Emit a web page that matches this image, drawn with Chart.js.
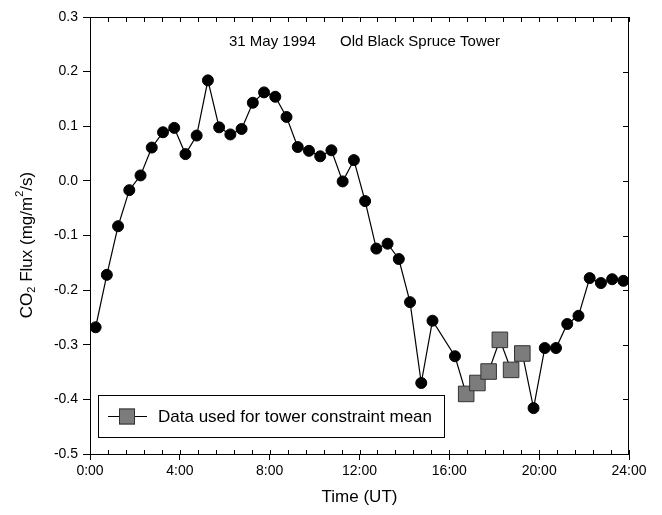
<!DOCTYPE html>
<html>
<head>
<meta charset="utf-8">
<script src="https://cdn.jsdelivr.net/npm/chart.js@4.4.1/dist/chart.umd.min.js"></script>
<style>
  html, body { margin: 0; padding: 0; background: #fff; }
  canvas { display: block; }
</style>
</head>
<body>
<canvas id="fluxChart" width="662" height="515"></canvas>
<script>
// time of each measurement (hours UT) - no value at 15:45
const hours = [0.25, 0.75, 1.25, 1.75, 2.25, 2.75, 3.25, 3.75, 4.25, 4.75,
  5.25, 5.75, 6.25, 6.75, 7.25, 7.75, 8.25, 8.75, 9.25, 9.75,
  10.25, 10.75, 11.25, 11.75, 12.25, 12.75, 13.25, 13.75, 14.25, 14.75,
  15.25, 16.25, 16.75, 17.25, 17.75, 18.25, 18.75, 19.25, 19.75, 20.25,
  20.75, 21.25, 21.75, 22.25, 22.75, 23.25, 23.75];
// CO2 flux (mg/m2/s)
const flux = [-0.268, -0.172, -0.083, -0.017, 0.010, 0.061, 0.089, 0.097, 0.049, 0.083,
  0.184, 0.098, 0.085, 0.095, 0.143, 0.162, 0.154, 0.117, 0.062, 0.055,
  0.045, 0.056, -0.001, 0.038, -0.037, -0.124, -0.115, -0.143, -0.222, -0.370,
  -0.256, -0.321, -0.390, -0.370, -0.349, -0.291, -0.346, -0.316, -0.416, -0.306,
  -0.306, -0.262, -0.247, -0.178, -0.187, -0.180, -0.183];
// hours used for the tower constraint mean (drawn as squares)
const usedHours = [16.75, 17.25, 17.75, 18.25, 18.75, 19.25];

const titleLeft = '31 May 1994';
const titleRight = 'Old Black Spruce Tower';
const legendLabel = 'Data used for tower constraint mean';

const FONT = '"Liberation Sans", Arial, Helvetica, sans-serif';
const points = hours.map((h, i) => ({x: h, y: flux[i]}));
const isUsed = ctx => usedHours.includes(hours[ctx.dataIndex]);

// frame, minor ticks, titles and the inset legend
const decorations = {
  id: 'decorations',
  afterDraw(chart) {
    const {ctx, chartArea: a, scales: {x, y}} = chart;
    ctx.save();
    ctx.strokeStyle = '#000';
    ctx.lineWidth = 1;
    ctx.beginPath();
    ctx.moveTo(a.left, a.top + 0.5); ctx.lineTo(a.right, a.top + 0.5);
    ctx.moveTo(a.right - 0.5, a.top); ctx.lineTo(a.right - 0.5, a.bottom);
    // minor ticks every 48 minutes, pointing in
    for (let t = 0; t <= 24.001; t += 0.8) {
      const px = Math.round(x.getPixelForValue(t)) + 0.5;
      ctx.moveTo(px, a.top); ctx.lineTo(px, a.top + 5);
      ctx.moveTo(px, a.bottom); ctx.lineTo(px, a.bottom - 4);
    }
    for (let v = -0.5; v <= 0.301; v += 0.1) {
      const py = Math.round(y.getPixelForValue(v)) + 0.5;
      ctx.moveTo(a.right, py); ctx.lineTo(a.right - 6, py);
    }
    ctx.stroke();

    // title inside the plot
    ctx.fillStyle = '#000';
    ctx.font = '15px ' + FONT;
    ctx.textBaseline = 'middle';
    ctx.textAlign = 'left';
    ctx.fillText(titleLeft, 229, 42);
    ctx.fillText(titleRight, 340, 42);

    // x axis title
    ctx.font = '17px ' + FONT;
    ctx.textAlign = 'center';
    ctx.fillText('Time (UT)', (a.left + a.right) / 2, 497);

    // y axis title with sub/superscripts
    const parts = [
      ['CO', 17, 0], ['2', 11, 5], [' Flux (mg/m', 17, 0], ['2', 11, -7], ['/s)', 17, 0]
    ];
    let total = 0;
    parts.forEach(p => { ctx.font = p[1] + 'px ' + FONT; total += ctx.measureText(p[0]).width; });
    ctx.translate(27, 245);
    ctx.rotate(-Math.PI / 2);
    ctx.textAlign = 'left';
    let cx = -total / 2;
    parts.forEach(p => {
      ctx.font = p[1] + 'px ' + FONT;
      ctx.fillText(p[0], cx, p[2]);
      cx += ctx.measureText(p[0]).width;
    });
    ctx.setTransform(1, 0, 0, 1, 0, 0);

    // legend box
    const lx = 98.5, ly = 395.5, lw = 346, lh = 42;
    ctx.fillStyle = '#fff';
    ctx.fillRect(lx, ly, lw, lh);
    ctx.strokeStyle = '#000';
    ctx.strokeRect(lx, ly, lw, lh);
    const my = ly + lh / 2;
    ctx.beginPath();
    ctx.moveTo(108, my); ctx.lineTo(147, my);
    ctx.stroke();
    ctx.fillStyle = '#7c7c7c';
    ctx.fillRect(119, my - 8, 16, 16);
    ctx.strokeStyle = '#333';
    ctx.strokeRect(119.5, my - 7.5, 15, 15);
    ctx.fillStyle = '#000';
    ctx.font = '17px ' + FONT;
    ctx.textAlign = 'left';
    ctx.fillText(legendLabel, 158, my + 1);
    ctx.restore();
  }
};

new Chart(document.getElementById('fluxChart'), {
  type: 'line',
  data: {
    datasets: [{
      data: points,
      borderColor: '#000',
      borderWidth: 1.2,
      tension: 0,
      pointStyle: ctx => isUsed(ctx) ? 'rect' : 'circle',
      pointRadius: ctx => isUsed(ctx) ? 11 : 5.5,
      pointBackgroundColor: ctx => isUsed(ctx) ? '#7c7c7c' : '#000',
      pointBorderColor: ctx => isUsed(ctx) ? '#333' : '#000',
      pointBorderWidth: 1
    }]
  },
  options: {
    responsive: false,
    animation: false,
    layout: { padding: { top: 17, right: 33, left: 0, bottom: 0 } },
    plugins: { legend: { display: false }, tooltip: { enabled: false } },
    scales: {
      x: {
        type: 'linear',
        min: 0,
        max: 24,
        afterFit: s => { s.height = 61; },
        ticks: {
          stepSize: 4,
          color: '#000',
          font: { family: FONT, size: 14 },
          padding: 3,
          maxRotation: 0,
          callback: v => v + ':00'
        },
        grid: { drawOnChartArea: false, tickLength: 6, color: '#000' },
        border: { color: '#000', width: 1 }
      },
      y: {
        min: -0.5,
        max: 0.3,
        afterFit: s => { s.width = 90; },
        ticks: {
          stepSize: 0.1,
          color: '#000',
          font: { family: FONT, size: 14 },
          padding: 5,
          callback: v => Math.abs(v) < 1e-9 ? '0.0' : v.toFixed(1)
        },
        grid: { drawOnChartArea: false, tickLength: 7, color: '#000' },
        border: { color: '#000', width: 1 }
      }
    }
  },
  plugins: [decorations]
});
</script>
</body>
</html>
